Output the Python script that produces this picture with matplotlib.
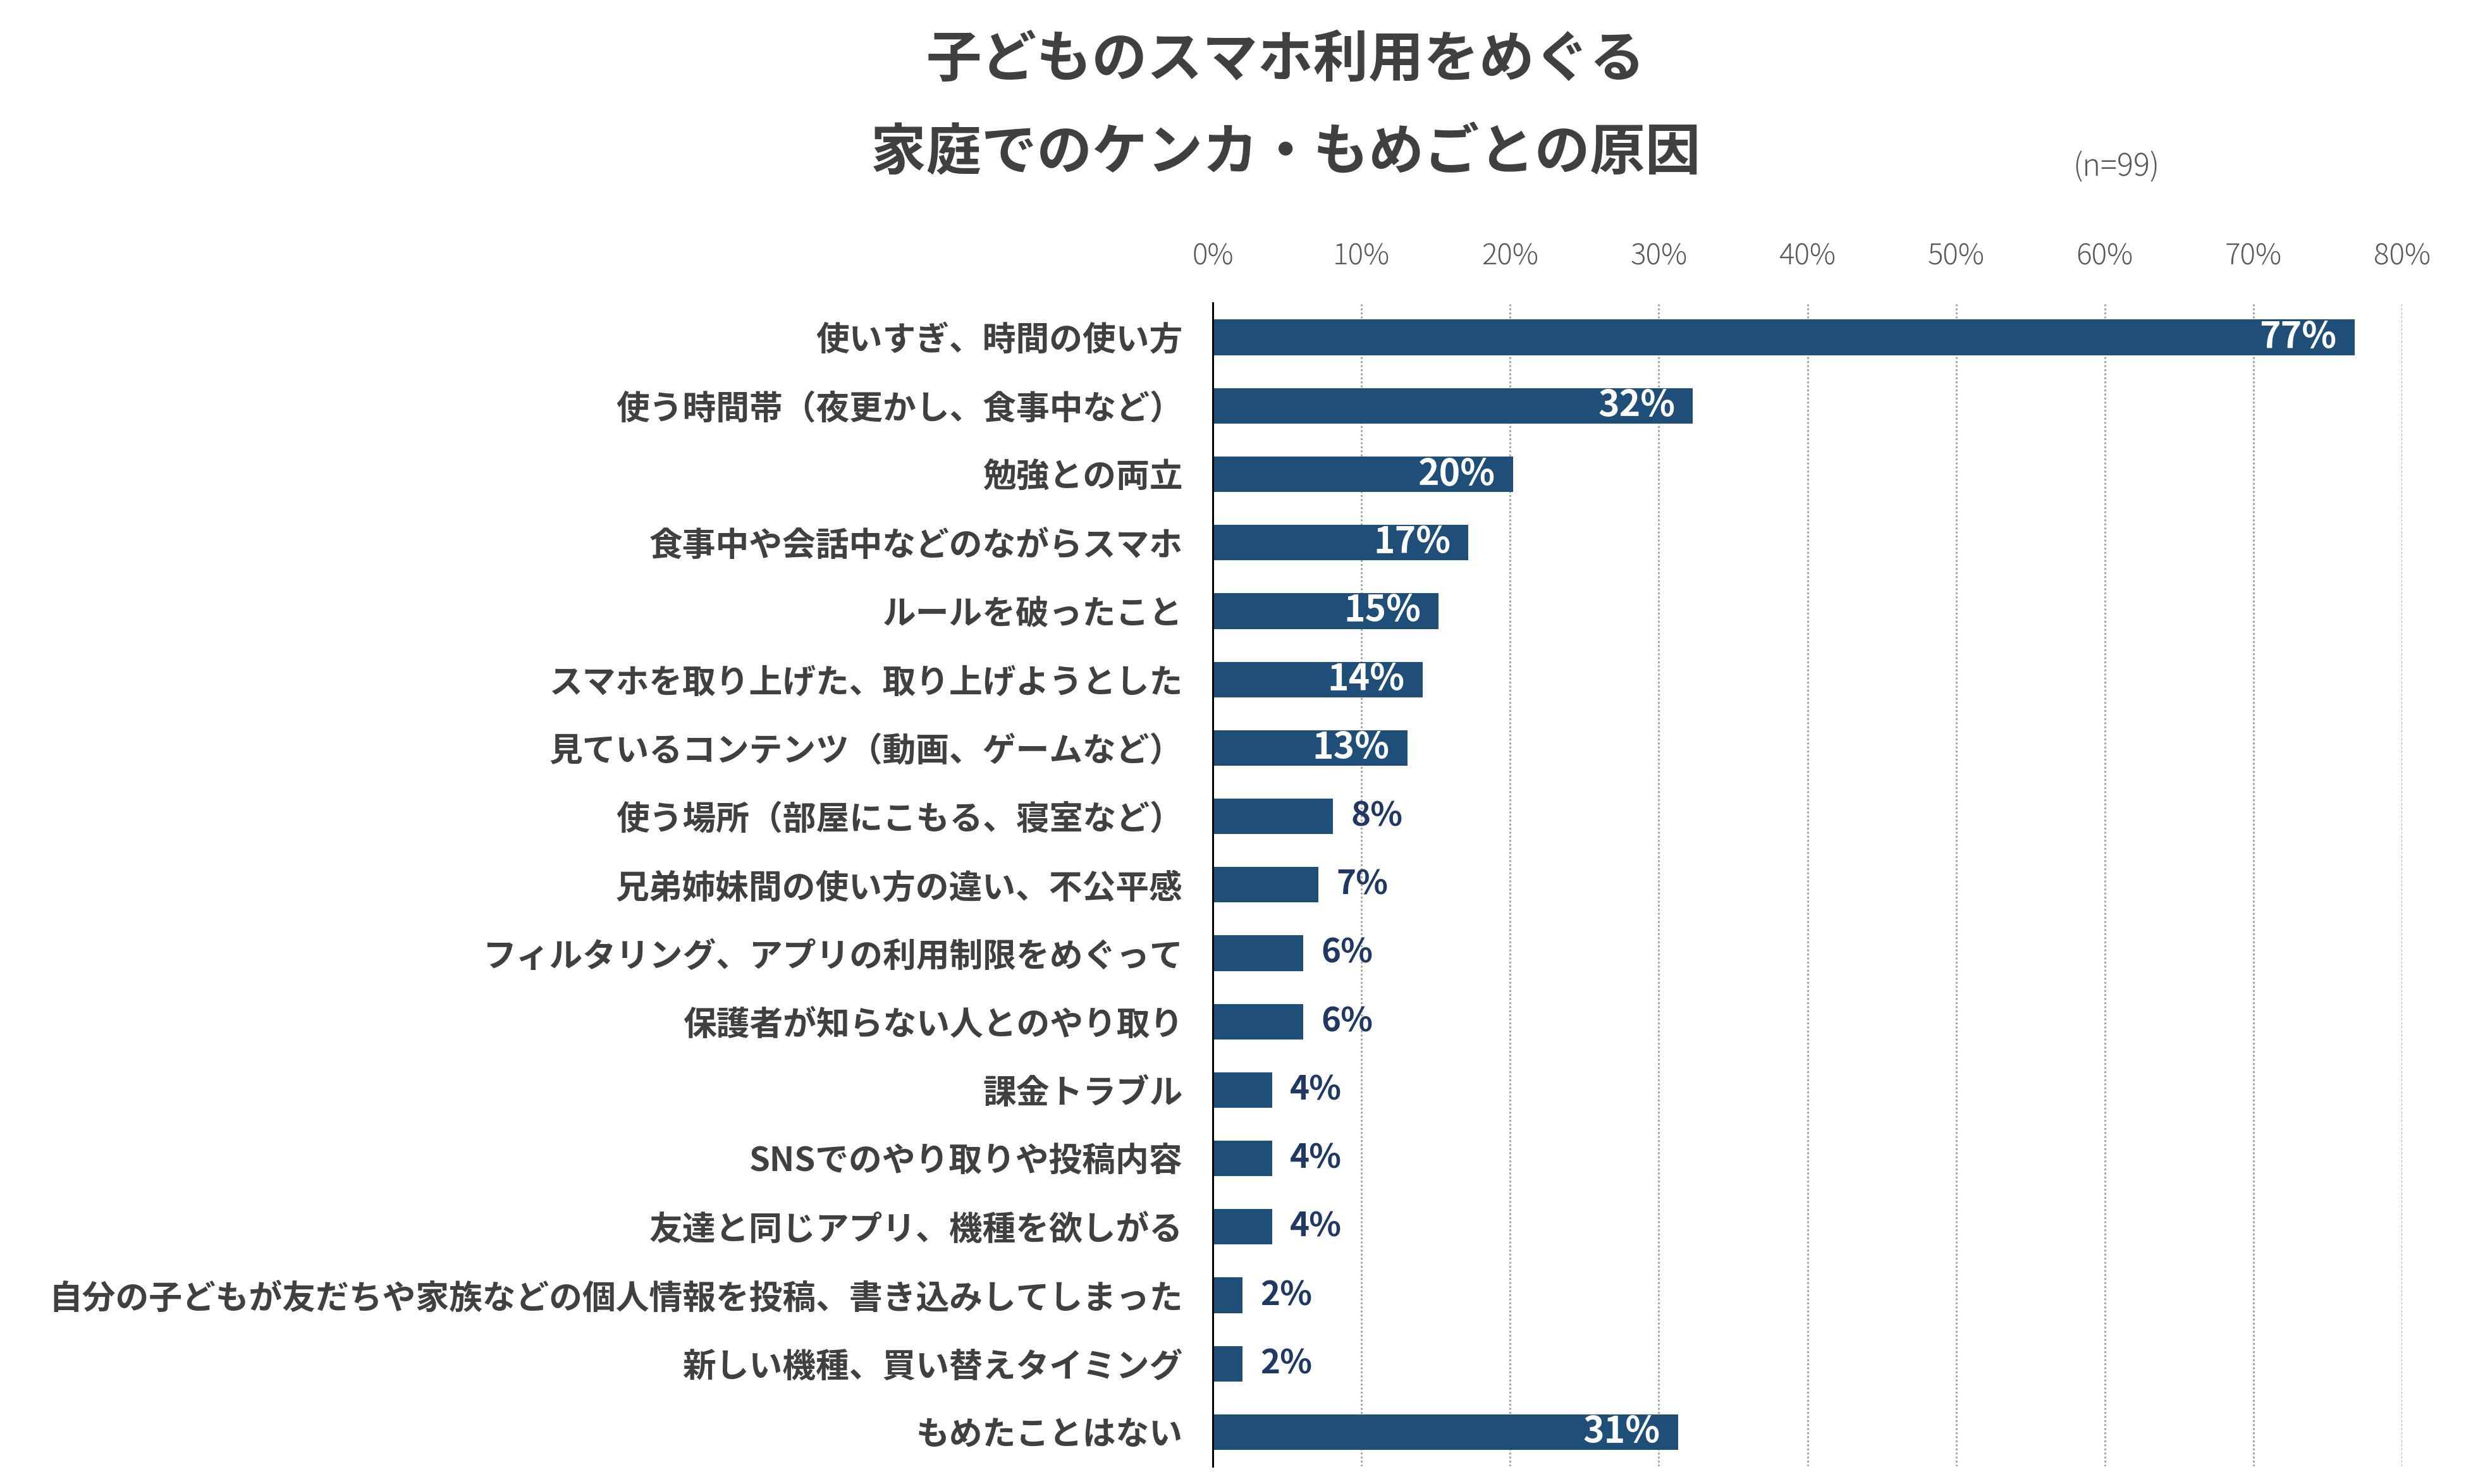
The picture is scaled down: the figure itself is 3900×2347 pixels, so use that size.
import matplotlib
matplotlib.use("Agg")
import matplotlib.pyplot as plt

plt.rcParams['font.family'] = ['Noto Sans CJK JP', 'DejaVu Sans']

# data (percent of n=99)
categories = [
    "使いすぎ、時間の使い方",
    "使う時間帯（夜更かし、食事中など）",
    "勉強との両立",
    "食事中や会話中などのながらスマホ",
    "ルールを破ったこと",
    "スマホを取り上げた、取り上げようとした",
    "見ているコンテンツ（動画、ゲームなど）",
    "使う場所（部屋にこもる、寝室など）",
    "兄弟姉妹間の使い方の違い、不公平感",
    "フィルタリング、アプリの利用制限をめぐって",
    "保護者が知らない人とのやり取り",
    "課金トラブル",
    "SNSでのやり取りや投稿内容",
    "友達と同じアプリ、機種を欲しがる",
    "自分の子どもが友だちや家族などの個人情報を投稿、書き込みしてしまった",
    "新しい機種、買い替えタイミング",
    "もめたことはない",
]
values = [76.8, 32.3, 20.2, 17.2, 15.2, 14.1, 13.1, 8.1, 7.1, 6.1, 6.1,
          4.0, 4.0, 4.0, 2.0, 2.0, 31.3]
xticks = [0, 10, 20, 30, 40, 50, 60, 70, 80]

title_lines = ["子どものスマホ利用をめぐる", "家庭でのケンカ・もめごとの原因"]
note = "(n=99)"

bar_color = "#1F4E79"
out_color = "#1F3864"
text_color = "#404040"

fig = plt.figure(figsize=(39, 23.47), dpi=100)
ax = fig.add_axes([0.4918, 0.0119, 0.9741 - 0.4918, 0.7838])

ypos = list(range(len(categories)))
ax.barh(ypos, values, height=0.52, color=bar_color, zorder=3)

ax.set_xlim(0, 80)
ax.set_ylim(len(categories) - 0.5, -0.5)

ax.set_yticks(ypos)
ax.set_yticklabels(categories, fontsize=38, fontweight='bold', color=text_color)
ax.tick_params(axis='y', length=0, pad=34)

ax.xaxis.tick_top()
ax.set_xticks(xticks)
ax.set_xticklabels([f"{t}%" for t in xticks], fontsize=33, fontweight='light', color="#595959")
ax.tick_params(axis='x', length=0, pad=36)

ax.grid(axis='x', color="#a6a6a6", linestyle=(0, (1, 1.1)), linewidth=2.2, zorder=0)
for s in ['top', 'right', 'bottom']:
    ax.spines[s].set_visible(False)
ax.spines['left'].set_color('black')
ax.spines['left'].set_linewidth(2.2)
ax.spines['left'].set_zorder(4)

for y, v in zip(ypos, values):
    lab = f"{round(v)}%"
    if v >= 10:
        ax.text(v - 1.2, y, lab, ha='right', va='center', fontsize=41,
                fontweight='bold', color='white', zorder=5)
    else:
        ax.text(v + 1.2, y, lab, ha='left', va='center', fontsize=38,
                fontweight='bold', color=out_color, zorder=5)

fig.text(2033 / 3900, 1 - 96 / 2347, title_lines[0], ha='center', va='center',
         fontsize=63, fontweight='bold', color=text_color)
fig.text(2033 / 3900, 1 - 243 / 2347, title_lines[1], ha='center', va='center',
         fontsize=63, fontweight='bold', color=text_color)
fig.text(3347 / 3900, 1 - 265 / 2347, note, ha='center', va='center',
         fontsize=35, fontweight='light', color="#595959")

fig.savefig("out.png", dpi=100)
